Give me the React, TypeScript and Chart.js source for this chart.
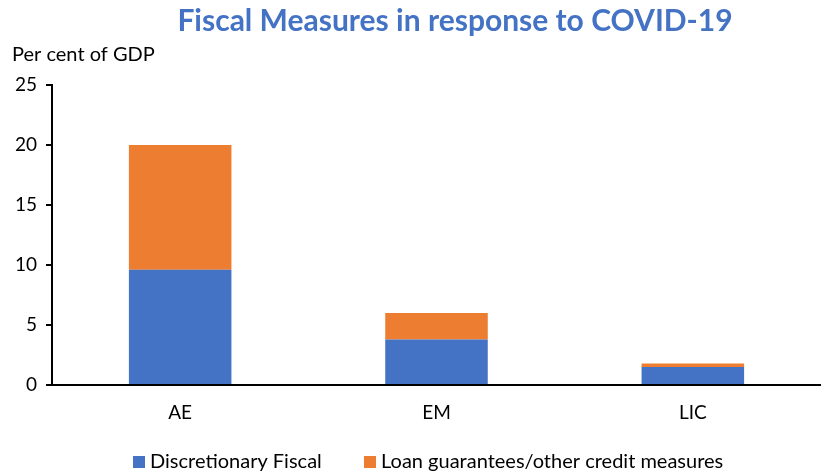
import React, { useEffect, useRef } from "react";
import { Chart, registerables } from "chart.js";
Chart.register(...registerables);

const categories = ["AE", "EM", "LIC"];
const discretionary = [9.6, 3.8, 1.5];
const loanGuarantees = [10.4, 2.2, 0.3];
const seriesLabels = ["Discretionary Fiscal", "Loan guarantees/other credit measures"];
const seriesColors = ["#4472C4", "#ED7D31"];
const titleText = "Fiscal Measures in response to COVID-19";
const yLabel = "Per cent of GDP";

const FONT = "Lato, 'Open Sans', sans-serif";

export default function App() {
  const ref = useRef<HTMLCanvasElement>(null);
  useEffect(() => {
    document.body.style.margin = "0";
    const overlay = {
      id: "overlay",
      afterDraw(chart: any) {
        const ctx = chart.ctx;
        ctx.save();
        ctx.fillStyle = "#4472C4";
        ctx.font = `bold 30px ${FONT}`;
        ctx.textAlign = "center";
        ctx.textBaseline = "middle";
        ctx.fillText(titleText, 455, 21);
        ctx.fillStyle = "#000";
        ctx.font = `20px ${FONT}`;
        ctx.textAlign = "left";
        ctx.fillText(yLabel, 12, 55);
        const lx = [133, 364];
        seriesLabels.forEach((lab, i) => {
          ctx.fillStyle = seriesColors[i];
          ctx.fillRect(lx[i], 456, 12, 12);
          ctx.fillStyle = "#000";
          ctx.fillText(lab, lx[i] + 17, 462);
        });
        ctx.restore();
      },
    };
    const chart = new Chart(ref.current!, {
      type: "bar",
      data: {
        labels: categories,
        datasets: [
          { label: seriesLabels[0], data: discretionary, backgroundColor: seriesColors[0], categoryPercentage: 1, barPercentage: 0.4 },
          { label: seriesLabels[1], data: loanGuarantees, backgroundColor: seriesColors[1], categoryPercentage: 1, barPercentage: 0.4 },
        ],
      },
      options: {
        animation: false,
        responsive: false,
        layout: { padding: { top: 85, left: 0, right: 0, bottom: 0 } },
        plugins: { legend: { display: false }, title: { display: false }, tooltip: { enabled: false } },
        scales: {
          x: {
            stacked: true,
            grid: { display: false },
            border: { color: "#000", width: 2 },
            ticks: { color: "#000", font: { family: FONT, size: 19 }, padding: 8 },
            afterFit: (s: any) => { s.height = 89; },
          },
          y: {
            stacked: true,
            min: 0,
            max: 25,
            ticks: { stepSize: 5, color: "#000", font: { family: FONT, size: 19 }, padding: 9 },
            grid: { drawOnChartArea: false, drawTicks: true, tickLength: 6, color: "#000", lineWidth: 2 },
            border: { color: "#000", width: 2 },
            afterFit: (s: any) => { s.width = 52; },
          },
        },
      },
      plugins: [overlay],
    });
    return () => chart.destroy();
  }, []);
  return <canvas ref={ref} width={821} height={474} style={{ display: "block" }} />;
}
